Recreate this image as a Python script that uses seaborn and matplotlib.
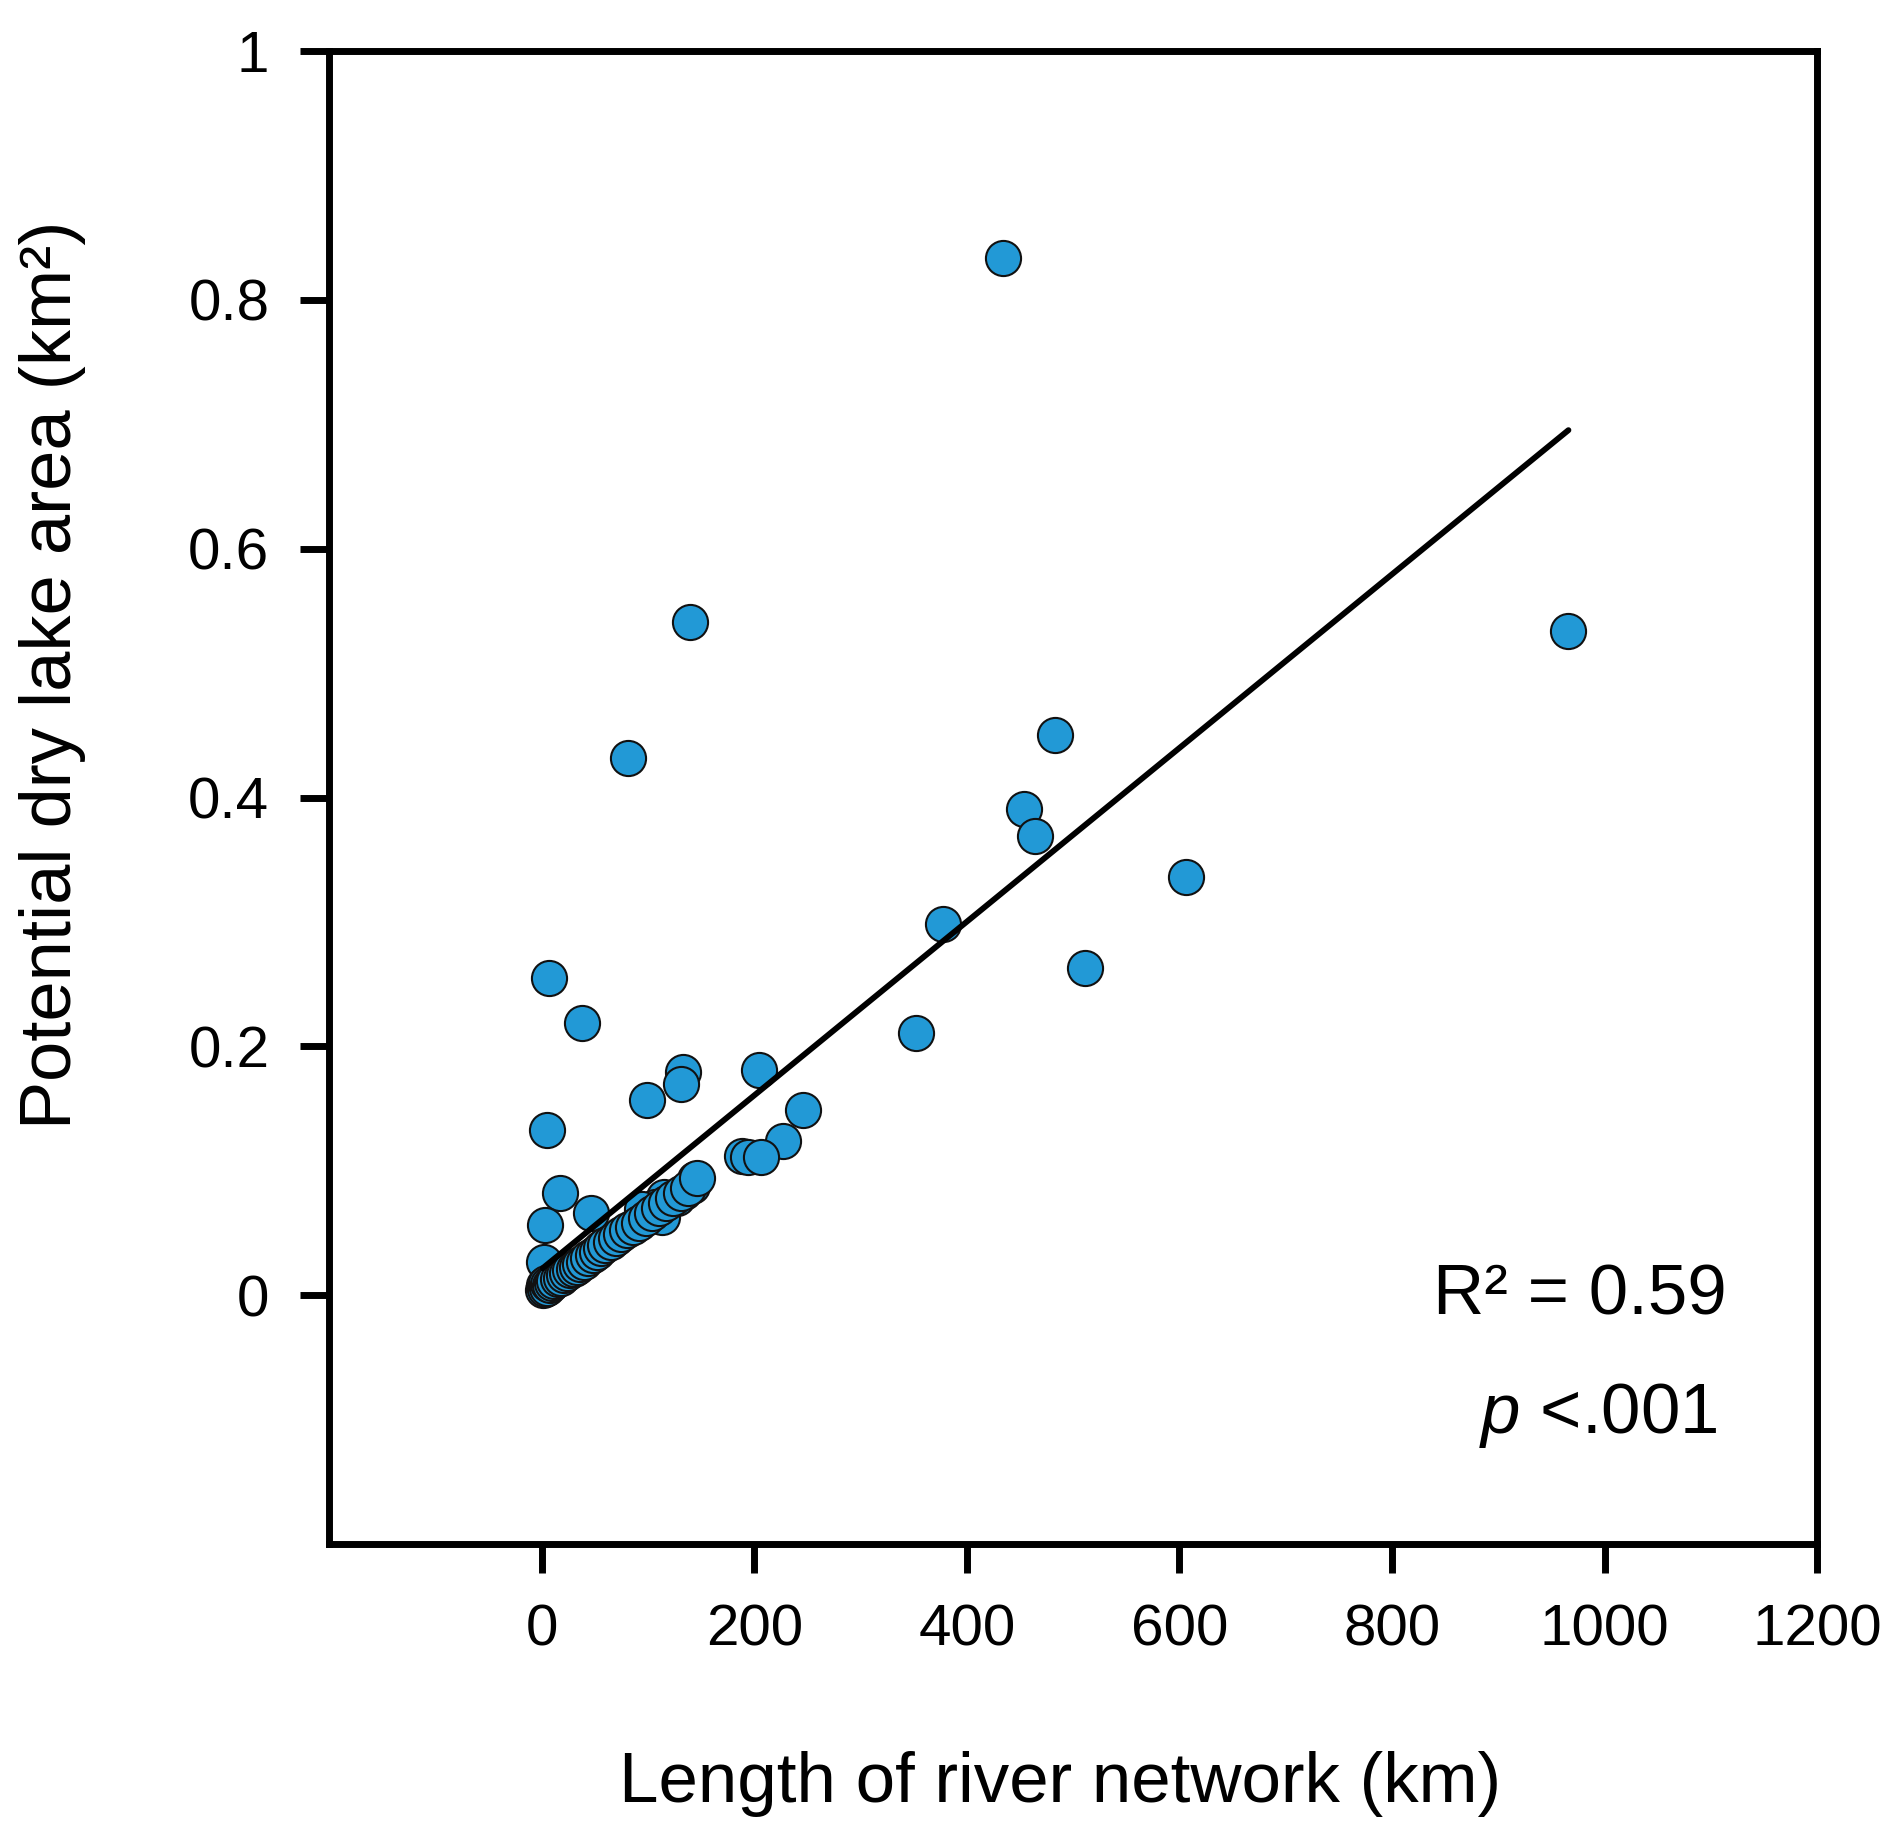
import numpy as np
import pandas as pd
import matplotlib
matplotlib.use("Agg")
import matplotlib.pyplot as plt
import seaborn as sns

# ---- data ----
river_length_km = [
    434, 140, 966, 81, 483, 454, 464, 606, 378, 511, 352,
    7, 38, 5, 133, 131, 99, 204, 246, 227, 188, 194, 206,
    17, 46, 3, 2, 144, 141, 134, 115, 107, 94, 113, 127,
    1, 2, 3, 4, 5, 6, 8, 10, 12, 15, 18, 21, 24, 27, 30, 33, 36, 40,
    44, 48, 52, 56, 60, 65, 70, 75, 80, 86, 92, 98, 104, 110, 117,
    124, 131, 138, 146,
]
dry_lake_area_km2 = [
    0.834, 0.541, 0.534, 0.432, 0.450, 0.391, 0.369, 0.336, 0.298, 0.263, 0.211,
    0.255, 0.219, 0.133, 0.179, 0.170, 0.157, 0.181, 0.149, 0.124, 0.112, 0.111, 0.111,
    0.082, 0.066, 0.056, 0.027, 0.093, 0.088, 0.083, 0.079, 0.071, 0.069, 0.063, 0.078,
    0.004, 0.008, 0.005, 0.010, 0.006, 0.009, 0.008, 0.010, 0.011, 0.013, 0.014, 0.016,
    0.018, 0.020, 0.021, 0.023, 0.025, 0.027, 0.030, 0.032, 0.035, 0.038, 0.040, 0.043,
    0.046, 0.049, 0.052, 0.055, 0.058, 0.062, 0.066, 0.070, 0.074, 0.078, 0.082, 0.086,
    0.094,
]
fit_slope = 0.000698
fit_intercept = 0.021
r_squared_text = "R² = 0.59"
p_value_text = "<.001"

x_ticks = [0, 200, 400, 600, 800, 1000, 1200]
x_tick_labels = ["0", "200", "400", "600", "800", "1000", "1200"]
y_ticks = [0, 0.2, 0.4, 0.6, 0.8, 1.0]
y_tick_labels = ["0", "0.2", "0.4", "0.6", "0.8", "1"]

df = pd.DataFrame({"x": river_length_km, "y": dry_lake_area_km2})
fit_x = np.array([df["x"].min(), df["x"].max()])
fit_df = pd.DataFrame({"x": fit_x, "y": fit_intercept + fit_slope * fit_x})

# ---- style ----
sns.set_style("ticks")
plt.rcParams["font.family"] = ["Liberation Sans", "DejaVu Sans"]
plt.rcParams["mathtext.fontset"] = "custom"
plt.rcParams["mathtext.rm"] = "Liberation Sans"
plt.rcParams["mathtext.it"] = "Liberation Sans:italic"
plt.rcParams["text.color"] = "black"
plt.rcParams["axes.labelcolor"] = "black"
plt.rcParams["xtick.color"] = "black"
plt.rcParams["ytick.color"] = "black"

fig = plt.figure(figsize=(18.99, 18.48), dpi=100)
ax = fig.add_axes([0.1733, 0.1645, 0.7836, 0.8079])

sns.scatterplot(data=df, x="x", y="y", ax=ax, s=640, color="#2299D6",
                edgecolor="#111111", linewidth=1.5, zorder=3, legend=False)
sns.lineplot(data=fit_df, x="x", y="y", ax=ax, color="black", linewidth=4.2,
             zorder=4, legend=False)

ax.set_xlim(-200, 1200)
ax.set_ylim(-0.2, 1.0)
ax.set_xticks(x_ticks)
ax.set_xticklabels(x_tick_labels)
ax.set_yticks(y_ticks)
ax.set_yticklabels(y_tick_labels)

for sp in ax.spines.values():
    sp.set_visible(True)
    sp.set_linewidth(5)
    sp.set_color("black")
ax.tick_params(axis="both", which="major", length=21, width=5, color="black",
               labelsize=42, labelcolor="black", direction="out")
ax.tick_params(axis="x", pad=22)
ax.tick_params(axis="y", pad=22)

ax.set_xlabel("Length of river network (km)", fontsize=51, color="black")
ax.set_ylabel("Potential dry lake area (km²)", fontsize=52, color="black")
ax.xaxis.set_label_coords(0.491, -0.1607)
ax.xaxis.label.set_va("center")
ax.yaxis.set_label_coords(-0.186, 0.582)
ax.yaxis.label.set_va("center")

ax.text(0.939, 0.154, r_squared_text, transform=ax.transAxes, ha="right",
        va="baseline", fontsize=51, color="black")
ax.text(0.933, 0.0743, r"$p$ " + p_value_text, transform=ax.transAxes, ha="right",
        va="baseline", fontsize=51, color="black")

fig.savefig("out.png", dpi=100, facecolor="white")
